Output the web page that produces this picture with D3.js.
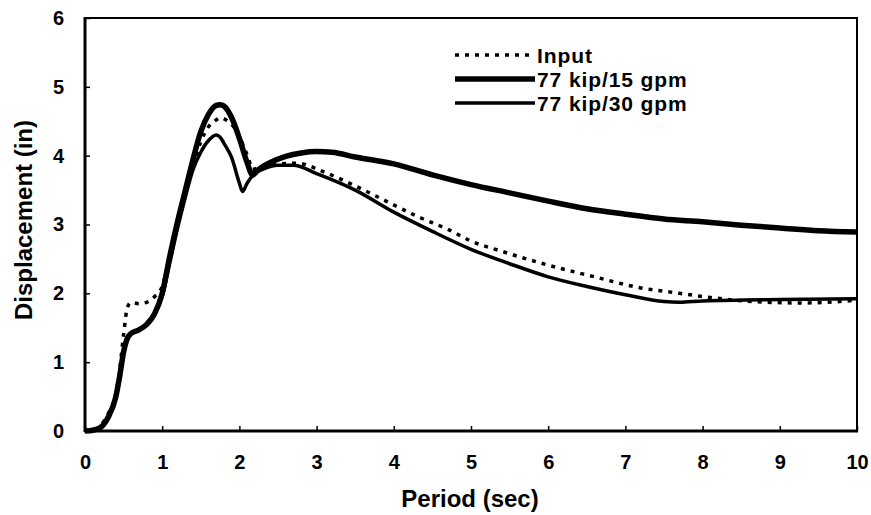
<!DOCTYPE html>
<html><head><meta charset="utf-8">
<script src="https://cdn.jsdelivr.net/npm/d3@7"></script>
<style>body{margin:0;background:#fff}svg{display:block}text{font-family:"Liberation Sans",Arial,sans-serif;font-weight:bold;fill:#000}</style>
</head><body><svg id="c" width="871" height="515"></svg>
<script>
const xTicks = [0,1,2,3,4,5,6,7,8,9,10];
const yTicks = [0,1,2,3,4,5,6];
const seriesNames = ["Input","77 kip/15 gpm","77 kip/30 gpm"];
const inputPts = [[0,0],[0.1,0.01],[0.2,0.08],[0.3,0.25],[0.4,0.55],[0.45,0.9],[0.5,1.4],[0.55,1.8],[0.6,1.87],[0.7,1.85],[0.8,1.87],[0.9,1.95],[1.0,2.1],[1.1,2.55],[1.2,3.05],[1.3,3.45],[1.4,3.85],[1.5,4.2],[1.6,4.42],[1.7,4.52],[1.75,4.55],[1.85,4.5],[1.95,4.38],[2.05,4.15],[2.12,3.95],[2.17,3.8],[2.3,3.85],[2.5,3.88],[2.75,3.89],[3.1,3.76],[3.5,3.56],[3.9,3.34],[4.3,3.12],[4.7,2.93],[5.0,2.76],[5.4,2.61],[6.0,2.41],[6.6,2.24],[7.15,2.09],[7.7,2.0],[8.1,1.94],[8.65,1.88],[9.3,1.86],[10,1.9]];
const gpm15Pts = [[0,0],[0.1,0.01],[0.2,0.05],[0.3,0.2],[0.4,0.5],[0.45,0.8],[0.5,1.15],[0.55,1.35],[0.6,1.42],[0.7,1.47],[0.8,1.55],[0.9,1.7],[1.0,2.0],[1.1,2.55],[1.2,3.05],[1.3,3.5],[1.4,3.95],[1.5,4.35],[1.6,4.6],[1.7,4.73],[1.75,4.74],[1.8,4.72],[1.9,4.55],[2.0,4.25],[2.1,3.9],[2.17,3.72],[2.25,3.8],[2.4,3.9],[2.6,3.99],[2.8,4.04],[3.0,4.06],[3.2,4.05],[3.5,3.98],[4,3.88],[4.5,3.72],[5,3.58],[5.5,3.46],[6,3.34],[6.5,3.23],[7,3.15],[7.5,3.08],[8,3.04],[8.5,2.99],[9,2.95],[9.5,2.91],[10,2.89]];
const gpm30Pts = [[0,0],[0.1,0.01],[0.2,0.05],[0.3,0.2],[0.4,0.5],[0.45,0.8],[0.5,1.15],[0.55,1.35],[0.6,1.42],[0.7,1.47],[0.8,1.55],[0.9,1.7],[1.0,1.95],[1.1,2.45],[1.2,2.95],[1.3,3.4],[1.4,3.8],[1.5,4.05],[1.6,4.22],[1.7,4.3],[1.75,4.27],[1.8,4.18],[1.9,3.97],[2.0,3.6],[2.04,3.48],[2.1,3.6],[2.2,3.74],[2.3,3.8],[2.5,3.86],[2.7,3.86],[3.0,3.74],[3.5,3.5],[4,3.18],[4.5,2.9],[5,2.64],[5.5,2.43],[6,2.24],[6.5,2.1],[7,1.98],[7.5,1.88],[7.7,1.87],[8,1.89],[9,1.91],[10,1.92]];

const svg = d3.select("#c");
const L=85, R=857, T=18, B=431;
const x = d3.scaleLinear().domain([0,10]).range([L,R]);
const y = d3.scaleLinear().domain([0,6]).range([B,T]);

// frame
svg.append("rect").attr("x",L).attr("y",T).attr("width",R-L).attr("height",B-T)
  .attr("fill","none").attr("stroke","#000").attr("stroke-width",2);
svg.append("line").attr("x1",L).attr("x2",L).attr("y1",T-1).attr("y2",B+1).attr("stroke","#000").attr("stroke-width",3);
svg.append("line").attr("x1",L-1).attr("x2",R+1).attr("y1",B).attr("y2",B).attr("stroke","#000").attr("stroke-width",3);

// axes with inward ticks
const xa = svg.append("g").attr("transform",`translate(0,${B})`)
  .call(d3.axisBottom(x).tickValues(xTicks).tickSize(-5).tickPadding(24).tickFormat(d3.format("d")));
xa.select(".domain").remove();
xa.selectAll("line").attr("stroke-width",1.5);
xa.selectAll("text").style("font-size","20px");
const ya = svg.append("g").attr("transform",`translate(${L},0)`)
  .call(d3.axisLeft(y).tickValues(yTicks).tickSize(-5).tickPadding(21).tickFormat(d3.format("d")));
ya.select(".domain").remove();
ya.selectAll("line").attr("stroke-width",1.5);
ya.selectAll("text").style("font-size","20px");

svg.append("text").attr("x",470).attr("y",507).attr("text-anchor","middle").style("font-size","24px").text("Period (sec)");
svg.append("text").attr("transform",`translate(32,220) rotate(-90)`).attr("text-anchor","middle").style("font-size","24px").text("Displacement (in)");

const line = d3.line().x(d=>x(d[0])).y(d=>y(d[1])).curve(d3.curveMonotoneX);
const g = svg.append("g");
g.append("path").datum(gpm30Pts).attr("d",line).attr("fill","none").attr("stroke","#000").attr("stroke-width",3.5);
g.append("path").datum(gpm15Pts).attr("d",line).attr("fill","none").attr("stroke","#000").attr("stroke-width",5.5);
g.append("path").datum(inputPts).attr("d",line).attr("fill","none").attr("stroke","#000").attr("stroke-width",3.5).attr("stroke-dasharray","4,6");

// legend
const legY = [55,79,103];
const styles = [{w:3.5,d:"4,6"},{w:5.5,d:null},{w:3.5,d:null}];
seriesNames.forEach((n,i)=>{
  svg.append("line").attr("x1",455).attr("x2",535).attr("y1",legY[i]).attr("y2",legY[i])
    .attr("stroke","#000").attr("stroke-width",styles[i].w).attr("stroke-dasharray",styles[i].d);
  svg.append("text").attr("x",537).attr("y",legY[i]).attr("dy","0.36em").style("font-size","21px")
    .style("letter-spacing","0.9px").text(n);
});
</script></body></html>
